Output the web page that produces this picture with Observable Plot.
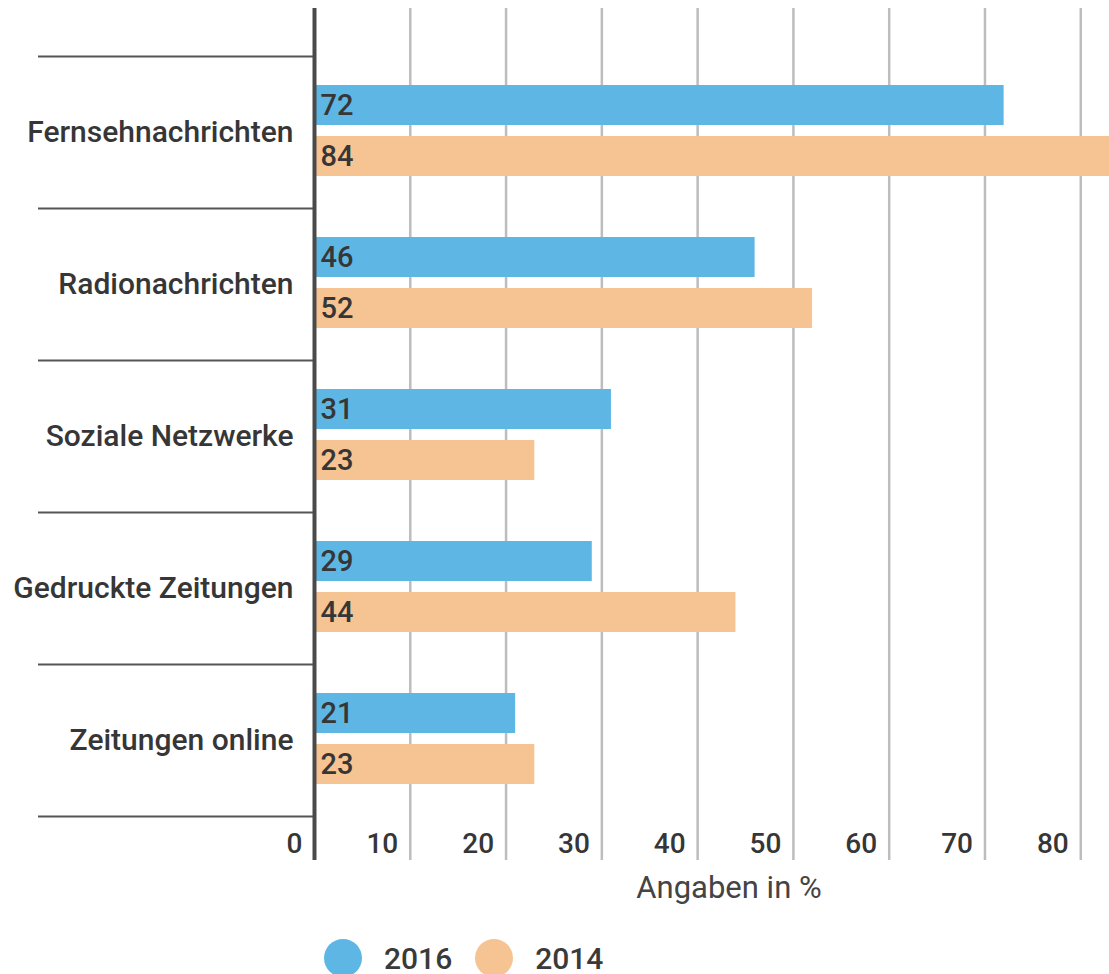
<!DOCTYPE html>
<html>
<head>
<meta charset="utf-8">
<script src="https://cdn.jsdelivr.net/npm/d3@7"></script>
<script src="https://cdn.jsdelivr.net/npm/@observablehq/plot@0.6"></script>
<style>
  html, body { margin: 0; padding: 0; background: #fff; }
  body { width: 1109px; height: 974px; overflow: hidden; font-family: Roboto, "Noto Sans", sans-serif; }
  #legend { display: flex; align-items: center; padding-left: 324px; height: 60px; margin-top: 13px; }
  .sw { width: 38px; height: 38px; border-radius: 50%; }
  .lt { font-size: 30px; font-weight: 500; color: #3a3a3a; margin-left: 22px; margin-right: 23px; }
</style>
</head>
<body>
<div id="chart"></div>
<div id="legend"></div>
<script>
const categories = ["Fernsehnachrichten", "Radionachrichten", "Soziale Netzwerke", "Gedruckte Zeitungen", "Zeitungen online"];
const values2016 = [72, 46, 31, 29, 21];
const values2014 = [84, 52, 23, 44, 23];
const years = ["2016", "2014"];
const colors = ["#5eb6e5", "#f6c492"];
const xTicks = [0, 10, 20, 30, 40, 50, 60, 70, 80];
const xLabel = "Angaben in %";

const d2016 = categories.map((c, i) => ({category: c, value: values2016[i]}));
const d2014 = categories.map((c, i) => ({category: c, value: values2014[i]}));

const textColor = "#363636";

const plot = Plot.plot({
  width: 1109,
  height: 915,
  marginLeft: 314,
  marginRight: 0,
  marginTop: 8,
  marginBottom: 55,
  style: {fontFamily: "Roboto, 'Noto Sans', sans-serif", background: "#fff"},
  x: {domain: [0, 83], clamp: true, axis: null},
  y: {type: "band", domain: categories, range: [56, 816], padding: 0, axis: null},
  marks: [
    Plot.ruleX(xTicks.filter(t => t > 0), {stroke: "#bdbdbd", strokeWidth: 2.5}),
    Plot.ruleY(categories, {y: d => d, x1: 0, x2: 0, insetLeft: -276, dy: -76, stroke: "#555", strokeWidth: 2}),
    Plot.ruleY(categories.slice(-1), {y: d => d, x1: 0, x2: 0, insetLeft: -276, dy: 76, stroke: "#555", strokeWidth: 2}),
    Plot.barX(d2016, {x: "value", y: "category", fill: colors[0], insetTop: 29, insetBottom: 83}),
    Plot.barX(d2014, {x: "value", y: "category", fill: colors[1], insetTop: 80, insetBottom: 32}),
    Plot.ruleX([0], {stroke: "#4a4a4a", strokeWidth: 4}),
    Plot.text(d2016, {x: 0, y: "category", text: d => String(d.value), textAnchor: "start", dx: 6, dy: -27, fontSize: 29, fontWeight: 500, fill: textColor}),
    Plot.text(d2014, {x: 0, y: "category", text: d => String(d.value), textAnchor: "start", dx: 6, dy: 24, fontSize: 29, fontWeight: 500, fill: textColor}),
    Plot.text(categories, {y: d => d, frameAnchor: "left", textAnchor: "end", dx: -21, fontSize: 30, fontWeight: 500, fill: textColor, text: d => d}),
    Plot.text(xTicks, {x: d => d, frameAnchor: "bottom", textAnchor: "end", dx: -12, dy: -8, fontSize: 28, fontWeight: 500, fill: textColor, text: d => String(d)}),
    Plot.text([xLabel], {frameAnchor: "bottom", dx: 17, dy: 37, fontSize: 31, fill: "#444", text: d => d})
  ]
});
document.getElementById("chart").appendChild(plot);

const legend = document.getElementById("legend");
years.forEach((y, i) => {
  const sw = document.createElement("div");
  sw.className = "sw";
  sw.style.background = colors[i];
  const t = document.createElement("span");
  t.className = "lt";
  t.textContent = y;
  legend.appendChild(sw);
  legend.appendChild(t);
});
</script>
</body>
</html>
